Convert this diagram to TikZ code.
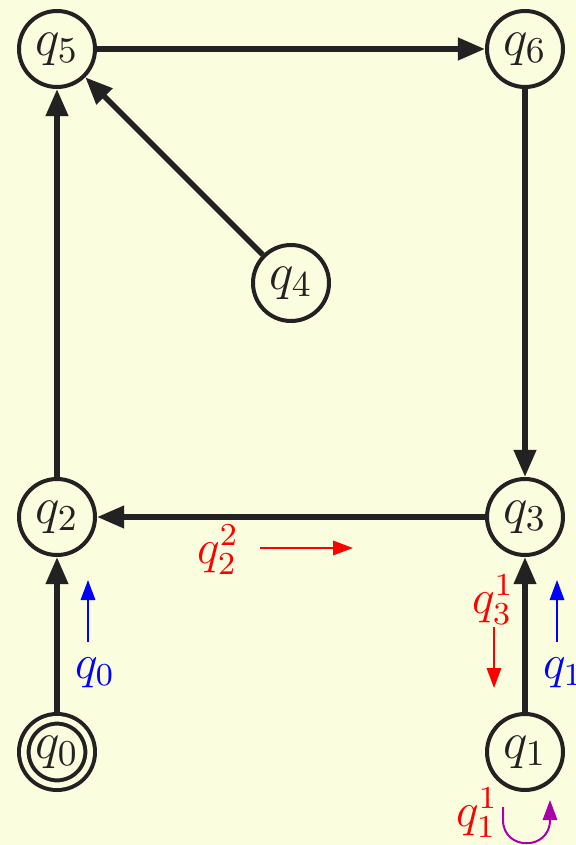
\documentclass[tikz,border=0pt]{standalone}
\usepackage{fix-cm}
\usetikzlibrary{arrows.meta}
\definecolor{bg}{RGB}{250,253,222}
\definecolor{ink}{RGB}{34,34,34}
\definecolor{myred}{RGB}{255,0,0}
\definecolor{myblue}{RGB}{0,0,255}
\definecolor{mypurple}{RGB}{170,0,170}
\begin{document}
\begin{tikzpicture}[x=0.25pt,y=-0.25pt,
  state/.style={circle,draw=ink,line width=1pt,minimum size=19pt,inner sep=0pt,
    font=\fontsize{13}{15}\selectfont,text=ink},
  acc/.style={state,minimum size=16.6pt,double=bg,double distance=1.4pt,outer sep=1.7pt},
  trans/.style={draw=ink,line width=1.4pt,-{Triangle[length=6.8pt,width=5.4pt]}},
  lbl/.style={inner sep=0pt,font=\fontsize{12}{14}\selectfont},
  ann/.style={line width=0.5pt,-{Triangle[length=5pt,width=3.6pt]}}
]
\fill[bg] (0,0) rectangle (576,845);
\useasboundingbox (0,0) rectangle (576,845);

\node[state] (q5) at (57,49) {$q_5$};
\node[state] (q6) at (525,49) {$q_6$};
\node[state] (q4) at (291,283) {$q_4$};
\node[state] (q2) at (57,517) {$q_2$};
\node[state] (q3) at (525,517) {$q_3$};
\node[acc] (q0) at (57,752) {$q_0$};
\node[state] (q1) at (525,752) {$q_1$};

\draw[trans] (q0) -- (q2);
\draw[trans] (q1) -- (q3);
\draw[trans] (q2) -- (q5);
\draw[trans] (q4) -- (q5);
\draw[trans] (q5) -- (q6);
\draw[trans] (q6) -- (q3);
\draw[trans] (q3) -- (q2);

% blue annotations
\coordinate (b0s) at (88,642); \coordinate (b0e) at (88,580);
\draw[ann,myblue] (b0s) -- (b0e);
\node[lbl,text=myblue] (l0) at (95,673) {$q_0$};
\coordinate (b1s) at (557,642); \coordinate (b1e) at (557,580);
\draw[ann,myblue] (b1s) -- (b1e);
\node[lbl,text=myblue] (l1) at (563,673) {$q_1$};

% red annotations
\node[lbl,text=myred] (l31) at (493,600) {$q_3^1$};
\coordinate (r3s) at (494,627); \coordinate (r3e) at (494,688);
\draw[ann,myred] (r3s) -- (r3e);
\node[lbl,text=myred] (l22) at (218,550) {$q_2^2$};
\coordinate (r2s) at (260,548); \coordinate (r2e) at (353,548);
\draw[ann,myred] (r2s) -- (r2e);
\node[lbl,text=myred] (l11) at (477,813) {$q_1^1$};

% purple loop
\coordinate (ps) at (503,807); \coordinate (pe) at (550,800);
\draw[ann,mypurple] (ps) -- (503,820) .. controls (503,851) and (550,851) .. (550,820) -- (pe);
\end{tikzpicture}
\end{document}
